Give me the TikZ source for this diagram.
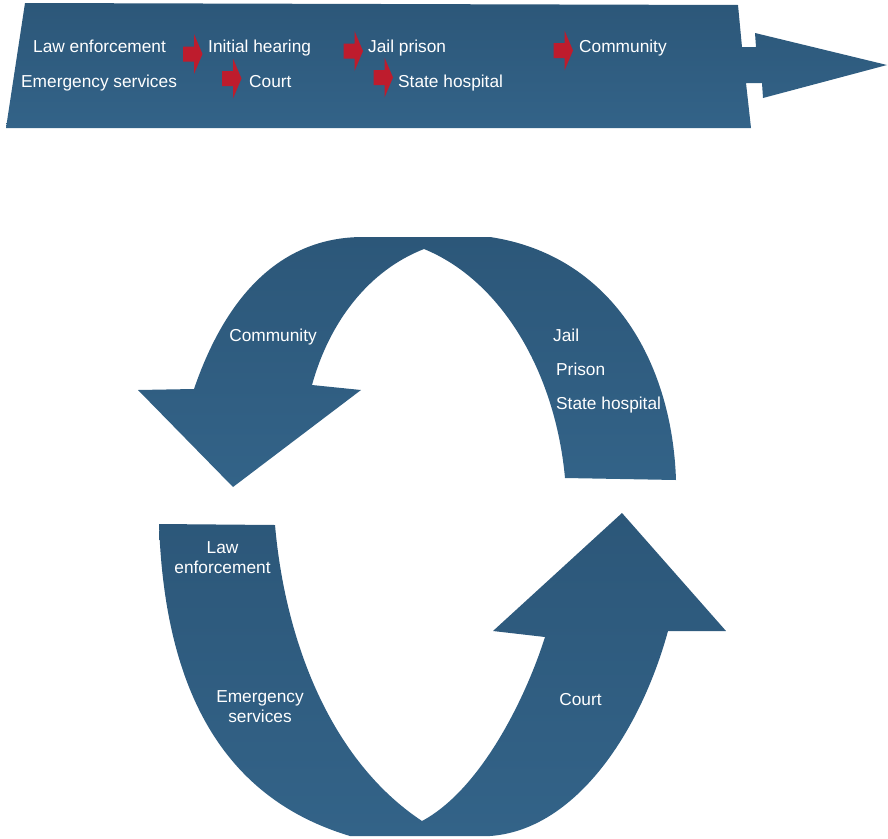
\documentclass[tikz,border=0pt]{standalone}
\usepackage{fontspec}
\setmainfont{Liberation Sans}
\definecolor{bandtop}{RGB}{44,87,121}
\definecolor{bandbot}{RGB}{51,99,136}
\definecolor{stepred}{RGB}{190,28,45}
\tikzset{
  band/.style={top color=bandtop, bottom color=bandbot, draw=none},
  lbl/.style={text=white, inner sep=0pt, font=\fontsize{17.3}{20}\selectfont},
  lblw/.style={lbl, anchor=base west},
  lblc/.style={lbl, anchor=base, align=center},
  redarrow/.pic={
    \fill[stepred] (0,-7.5) -- (11,-7.5) -- (11,-20) -- (19.5,0)
      -- (11,20) -- (11,7.5) -- (0,7.5) -- cycle;
  }
}
\begin{document}
\begin{tikzpicture}[x=1pt,y=-1pt]
\useasboundingbox (0,0) rectangle (888,838);

% linear process banner with its arrow head
\path[band] (25,3) -- (738,5) -- (742,47) -- (756,47) -- (755,33)
  -- (887,65) -- (763,98) -- (762,83) -- (746,83) -- (751,128)
  -- (6,128) -- cycle;

\node[lblw] (law)  at (33,52)  {Law enforcement};
\node[lblw] (emer) at (21,87)  {Emergency services};
\node[lblw] (init) at (208,52) {Initial hearing};
\node[lblw] (crt)  at (249,87) {Court};
\node[lblw] (jail) at (368,52) {Jail prison};
\node[lblw] (hosp) at (398,87) {State hospital};
\node[lblw] (comm) at (579,52) {Community};

\pic at (183,54) {redarrow};
\pic at (222,78.5) {redarrow};
\pic at (343.5,51) {redarrow};
\pic at (373.5,77.5) {redarrow};
\pic at (553.5,50.5) {redarrow};

% upper curved arrow: jail side back to the community
\path[band] (676,480) .. controls (672,360) and (610,255) .. (490,237)
  -- (363,237) .. controls (285,237) and (228,290) .. (194,389)
  -- (138,390) -- (233,487) -- (361,390) -- (312,385)
  .. controls (330,320) and (370,270) .. (424,249)
  .. controls (500,280) and (555,370) .. (565,478) -- cycle;

% lower curved arrow: law enforcement up to the court
\path[band] (159,524) -- (275,525)
  .. controls (285,640) and (330,760) .. (422,821)
  .. controls (480,790) and (525,700) .. (545,637)
  -- (493,631) -- (622,513) -- (726,631) -- (668,631)
  .. controls (640,733) and (575,830) .. (490,836)
  -- (350,836) .. controls (230,800) and (165,700) .. (159,524) -- cycle;

% two-line labels: the base anchor sits on the last line
\node[lblc] (ccomm) at (273,341.5) {Community};
\node[lblw] (cjail) at (553,341.5) {Jail};
\node[lblw] (cpris) at (556,375)   {Prison};
\node[lblw] (chosp) at (556,409)   {State hospital};
\node[lblc] (claw)  at (222.5,573.5) {Law\\enforcement};
\node[lblc] (cemer) at (260,722.5) {Emergency\\services};
\node[lblc] (ccrt)  at (580.5,705) {Court};
\end{tikzpicture}
\end{document}
